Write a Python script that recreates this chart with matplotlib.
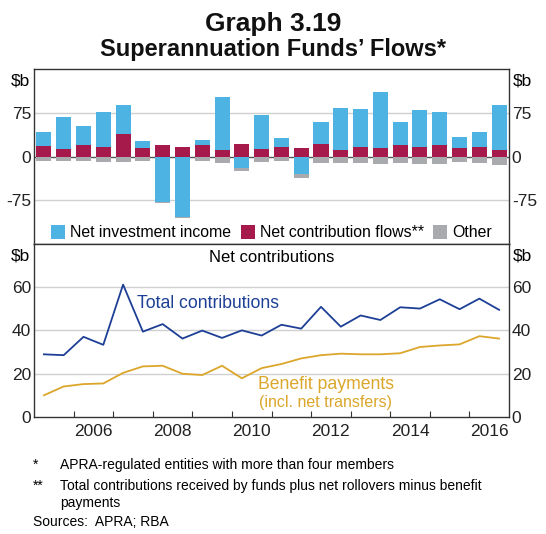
import numpy as np
import matplotlib
matplotlib.use("Agg")
import matplotlib.pyplot as plt
from matplotlib.ticker import FixedLocator, NullFormatter

plt.rcParams['font.family'] = ['Liberation Sans', 'DejaVu Sans']
plt.rcParams['axes.unicode_minus'] = False

# Half-yearly periods, 2005 H1 .. 2016 H2 (bar centres in decimal years)
periods = np.arange(24) * 0.5 + 2005.25

# Top panel, $b
net_investment = [24.8, 54.2, 32.3, 59.5, 49.6, 12.1, -77.9, -103.9, 9.3, 90.0, -19.0, 57.7,
                  15.6, -28.9, 37.6, 72.7, 65.2, 96.9, 39.2, 63.5, 56.0, 18.4, 27.1, 76.8]
net_contrib = [18.5, 13.3, 20.8, 16.7, 39.8, 15.0, 20.2, 16.7, 19.6, 12.1, 22.5, 13.3,
               17.3, 14.4, 21.3, 11.5, 16.7, 15.0, 20.2, 16.7, 20.2, 15.6, 16.2, 12.1]
other = [-6.9, -7.5, -7.5, -8.7, -9.2, -6.9, -1.5, -1.0, -6.9, -10.4, -5.8, -9.2,
         -8.1, -6.9, -11.5, -11.5, -11.5, -13.3, -11.5, -12.1, -12.1, -9.8, -11.0, -13.8]

# Bottom panel, $b
total_contrib = [28.9, 28.5, 37.0, 33.3, 61.2, 39.4, 42.9, 36.2, 39.9, 36.5, 40.0, 37.6,
                 42.6, 40.8, 50.9, 41.7, 46.9, 44.8, 50.7, 50.1, 54.4, 49.8, 54.7, 49.5]
benefit_pay = [9.9, 14.0, 15.1, 15.4, 20.3, 23.3, 23.6, 19.9, 19.3, 23.6, 17.8, 22.5,
               24.4, 27.0, 28.5, 29.2, 28.9, 28.9, 29.4, 32.3, 33.0, 33.5, 37.3, 36.2]

year_labels = [2006, 2008, 2010, 2012, 2014, 2016]

c_nii = '#4db3e2'
c_con = '#a6194b'
c_oth = '#a8aaad'
c_tot = '#1d3f95'
c_ben = '#dba62a'
grid_c = '#d0d0d0'
spine_c = '#333333'

fig = plt.figure(figsize=(5.46, 5.34), dpi=100)
ax1 = fig.add_axes([0.0623, 0.543, 0.870, 0.327])
ax2 = fig.add_axes([0.0623, 0.2197, 0.870, 0.3233])

nii = np.array(net_investment)
con = np.array(net_contrib)
oth = np.array(other)
w = 0.38

# bars
ax1.bar(periods, con, w, color=c_con, zorder=3, label='Net contribution flows**')
ax1.bar(periods, nii, w, bottom=np.where(nii > 0, con, 0), color=c_nii, zorder=3,
        label='Net investment income')
ax1.bar(periods, oth, w, bottom=np.minimum(nii, 0), color=c_oth, zorder=3, label='Other')
ax1.set_ylim(-150, 150)
ax1.set_yticks([-75, 0, 75])
for y in (-75, 75):
    ax1.axhline(y, color=grid_c, lw=1, zorder=1)
ax1.axhline(0, color='#555555', lw=1, zorder=2)

h, l = ax1.get_legend_handles_labels()
order = [1, 0, 2]
ax1.legend([h[i] for i in order], [l[i] for i in order], loc='lower center', ncol=3,
           frameon=False, fontsize=11.4, handlelength=0.9, handleheight=0.9,
           handletextpad=0.3, columnspacing=0.6, borderaxespad=0.05,
           bbox_to_anchor=(0.5, -0.02))

# lines
ax2.plot(periods, total_contrib, color=c_tot, lw=1.3, zorder=3)
ax2.plot(periods, benefit_pay, color=c_ben, lw=1.3, zorder=3)
ax2.set_ylim(0, 80)
ax2.set_yticks([0, 20, 40, 60])
for y in (20, 40, 60):
    ax2.axhline(y, color=grid_c, lw=1, zorder=1)
ax2.text(0.5, 0.965, 'Net contributions', transform=ax2.transAxes, ha='center', va='top',
         fontsize=12)
ax2.text(2007.6, 52.6, 'Total contributions', color=c_tot, fontsize=12.7, va='center')
ax2.text(2012.37, 15.0, 'Benefit payments', color=c_ben, fontsize=12.7, ha='center',
         va='center')
ax2.text(2012.37, 6.5, '(incl. net transfers)', color=c_ben, fontsize=11.5, ha='center',
         va='center')

for ax in (ax1, ax2):
    ax.set_xlim(2005, 2017)
    for s in ax.spines.values():
        s.set_color(spine_c)
        s.set_linewidth(1)
    ax.tick_params(axis='y', which='both', length=0, labelsize=12.5, pad=2,
                   labelright=True, right=False, colors='#222222')
    ax.text(-0.008, 0.975, '$b', transform=ax.transAxes, ha='right', va='top', fontsize=12.5)
    ax.text(1.008, 0.975, '$b', transform=ax.transAxes, ha='left', va='top', fontsize=12.5)

ax1.set_xticks([])
ax2.xaxis.set_major_locator(FixedLocator(np.arange(2006, 2017)))
ax2.xaxis.set_major_formatter(NullFormatter())
ax2.set_xticks([y + 0.5 for y in year_labels], minor=True)
ax2.set_xticklabels([str(y) for y in year_labels], minor=True)
ax2.tick_params(axis='x', which='major', direction='in', length=4, color=spine_c)
ax2.tick_params(axis='x', which='minor', length=0, labelsize=12.5, pad=5, colors='#222222')

# titles
fig.text(0.5, 0.942, 'Graph 3.19', ha='center', va='baseline', fontsize=19,
         fontweight='bold', color='#111111')
fig.text(0.5, 0.895, 'Superannuation Funds\u2019 Flows*', ha='center', va='baseline',
         fontsize=17, fontweight='bold', color='#111111')

# footnotes
fs = 10
x0, x1 = 0.061, 0.11
fig.text(x0, 0.1217, '*', fontsize=fs, va='baseline')
fig.text(x1, 0.1217, 'APRA-regulated entities with more than four members', fontsize=fs,
         va='baseline')
fig.text(x0, 0.0824, '**', fontsize=fs, va='baseline')
fig.text(x1, 0.0824, 'Total contributions received by funds plus net rollovers minus benefit',
         fontsize=fs, va='baseline')
fig.text(x1, 0.0506, 'payments', fontsize=fs, va='baseline')
fig.text(x0, 0.0150, 'Sources:  APRA; RBA', fontsize=fs, va='baseline')

fig.savefig('out.png', dpi=100)
